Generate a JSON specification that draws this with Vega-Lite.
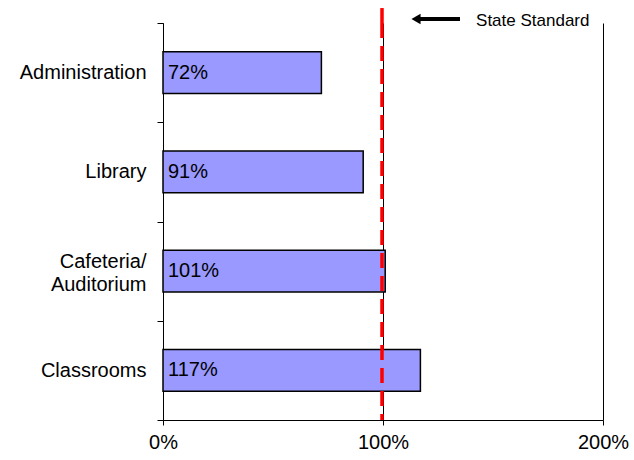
{
  "$schema": "https://vega.github.io/schema/vega-lite/v6.json",
  "autosize": {"type": "pad"},
  "padding": {"left": 19, "top": 0, "right": 10, "bottom": 10},
  "background": "white",
  "spacing": 0,
  "bounds": "flush",
  "resolve": {"scale": {"x": "independent", "y": "independent"}, "axis": {"x": "independent", "y": "independent"}},
  "config": {
    "view": {"stroke": null},
    "font": "Liberation Sans",
    "axis": {
      "domainColor": "black",
      "tickColor": "black",
      "labelColor": "black",
      "labelFont": "Liberation Sans",
      "labelFontSize": 20
    }
  },
  "vconcat": [
    {
      "width": 440,
      "height": 23,
      "data": {"values": [{"note": "State Standard", "standard": 1, "arrowTip": 1.15, "arrowEnd": 1.35, "textX": 1.423}]},
      "layer": [
        {
          "mark": {"type": "rule", "color": "#FF0000", "strokeWidth": 3.5, "strokeDash": [15, 8], "xOffset": -1},
          "encoding": {
            "x": {"field": "standard", "type": "quantitative", "scale": {"domain": [0, 2]}, "axis": null},
            "y": {"datum": 0, "type": "quantitative", "scale": {"domain": [0, 1]}, "axis": null},
            "y2": {"datum": 0.65}
          }
        },
        {
          "mark": {"type": "rule", "color": "black", "strokeWidth": 4},
          "encoding": {
            "x": {"field": "arrowTip", "type": "quantitative"},
            "x2": {"field": "arrowEnd"},
            "y": {"datum": 0.17, "type": "quantitative"}
          }
        },
        {
          "mark": {"type": "point", "shape": "triangle-left", "filled": true, "color": "black", "opacity": 1, "size": 110},
          "encoding": {
            "x": {"field": "arrowTip", "type": "quantitative"},
            "y": {"datum": 0.17, "type": "quantitative"}
          }
        },
        {
          "mark": {"type": "text", "align": "left", "baseline": "middle", "fontSize": 17, "color": "black"},
          "encoding": {
            "x": {"field": "textX", "type": "quantitative"},
            "y": {"datum": 0.1, "type": "quantitative"},
            "text": {"field": "note"}
          }
        }
      ]
    },
    {
      "width": 440,
      "height": 397,
      "data": {"values": [
        {"area": "Administration", "pct": 0.72},
        {"area": "Library", "pct": 0.91},
        {"area": "Cafeteria/Auditorium", "pct": 1.01},
        {"area": "Classrooms", "pct": 1.17}
      ]},
      "layer": [
        {
          "mark": {"type": "bar", "fill": "#9999FF", "stroke": "black", "strokeWidth": 1.5, "height": {"band": 0.42}},
          "encoding": {
            "y": {
              "field": "area", "type": "nominal", "sort": null, "title": null,
              "scale": {"paddingInner": 0, "paddingOuter": 0},
              "axis": {
                "tickBand": "extent", "tickSize": 6, "labelPadding": 11,
                "labelLineHeight": 23,
                "labelOffset": {"condition": {"test": "datum.value == 'Cafeteria/Auditorium'", "value": -10}, "value": 0},
                "labelExpr": "datum.value == 'Cafeteria/Auditorium' ? ['Cafeteria/', 'Auditorium'] : datum.label"
              }
            },
            "x": {
              "field": "pct", "type": "quantitative", "title": null,
              "scale": {"domain": [0, 2]},
              "axis": {
                "values": [0, 1, 2], "format": ".0%", "grid": true, "labelFlush": false,
                "gridColor": "black", "gridOpacity": 1, "gridWidth": 1,
                "tickSize": 5, "labelPadding": 7
              }
            }
          }
        },
        {
          "mark": {"type": "text", "align": "left", "baseline": "middle", "dx": 5, "fontSize": 20, "color": "black"},
          "encoding": {
            "y": {"field": "area", "type": "nominal", "sort": null},
            "x": {"datum": 0, "type": "quantitative"},
            "text": {"field": "pct", "type": "quantitative", "format": ".0%"}
          }
        },
        {
          "data": {"values": [{"standard": 1}]},
          "mark": {"type": "rule", "color": "#FF0000", "strokeWidth": 3.5, "strokeDash": [15, 8], "xOffset": -1},
          "encoding": {
            "x": {"field": "standard", "type": "quantitative"}
          }
        }
      ]
    }
  ]
}
